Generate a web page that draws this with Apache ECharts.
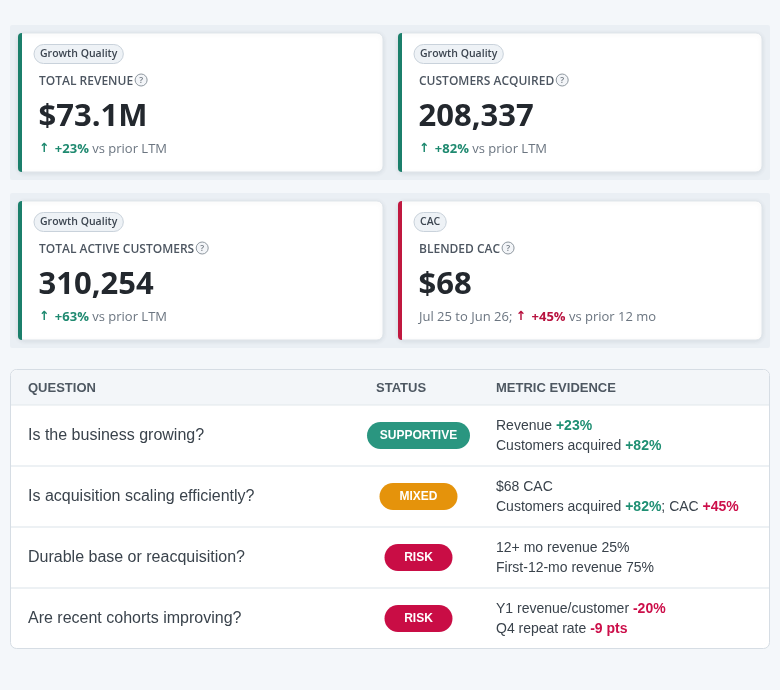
<!DOCTYPE html>
<html>
<head>
<meta charset="utf-8">
<script src="https://cdn.jsdelivr.net/npm/echarts@6/dist/echarts.min.js"></script>
<style>
html,body{margin:0;padding:0;background:#f4f7fa;}
#chart{width:780px;height:690px;}
</style>
</head>
<body>
<div id="chart"></div>
<script>
// ---- data ----
const kpiTags = ['Growth Quality', 'Growth Quality', 'Growth Quality', 'CAC'];
const kpiTitles = ['TOTAL REVENUE', 'CUSTOMERS ACQUIRED', 'TOTAL ACTIVE CUSTOMERS', 'BLENDED CAC'];
const kpiValues = ['$73.1M', '208,337', '310,254', '$68'];
const kpiPrefixes = ['', '', '', 'Jul 25 to Jun 26; '];
const kpiChanges = ['+23%', '+82%', '+63%', '+45%'];
const kpiCompares = ['vs prior LTM', 'vs prior LTM', 'vs prior LTM', 'vs prior 12 mo'];
const kpiTones = ['good', 'good', 'good', 'bad'];

const tableHeaders = ['QUESTION', 'STATUS', 'METRIC EVIDENCE'];
const questions = [
  'Is the business growing?',
  'Is acquisition scaling efficiently?',
  'Durable base or reacquisition?',
  'Are recent cohorts improving?'
];
const statuses = ['SUPPORTIVE', 'MIXED', 'RISK', 'RISK'];
const evidenceLine1 = [
  'Revenue {g|+23%}',
  '$68 CAC',
  '12+ mo revenue 25%',
  'Y1 revenue/customer {r|-20%}'
];
const evidenceLine2 = [
  'Customers acquired {g|+82%}',
  'Customers acquired {g|+82%}; CAC {r|+45%}',
  'First-12-mo revenue 75%',
  'Q4 repeat rate {r|-9 pts}'
];

// ---- styles ----
const CARD_FONT = "'Open Sans', 'Noto Sans', sans-serif";
const TABLE_FONT = "'Liberation Sans', Arial, sans-serif";
const toneColors = {
  good: { accent: '#1b7f6b', text: '#1f8a70' },
  bad: { accent: '#c0183f', text: '#b8123f' }
};
const statusStyles = {
  SUPPORTIVE: { fill: '#2a9680', width: 103 },
  MIXED: { fill: '#e5930b', width: 78 },
  RISK: { fill: '#c90d45', width: 68 }
};

const measureCtx = document.createElement('canvas').getContext('2d');
function textWidth(text, font) {
  measureCtx.font = font;
  return measureCtx.measureText(text).width;
}

const elements = [];

// bands
const bandYs = [25, 193];
bandYs.forEach(function (y) {
  elements.push({
    type: 'rect', shape: { x: 10, y: y, width: 760, height: 155, r: 2 },
    style: { fill: '#eaeff4' }
  });
});

// cards
const cardXs = [18, 398];
const cardW = [365, 364];
const cardYs = [33, 201];
const cardH = 139;

kpiTitles.forEach(function (title, i) {
  const col = i % 2, row = Math.floor(i / 2);
  const x = cardXs[col], y = cardYs[row], w = cardW[col];
  const tone = toneColors[kpiTones[i]];

  elements.push({
    type: 'rect', shape: { x: x, y: y, width: w, height: cardH, r: 6 },
    style: { fill: '#ffffff', stroke: '#dfe5ea', lineWidth: 1,
      shadowBlur: 5, shadowColor: 'rgba(20,40,70,0.09)', shadowOffsetY: 1 }
  });
  elements.push({
    type: 'rect', shape: { x: x, y: y, width: 4, height: cardH, r: [6, 0, 0, 6] },
    style: { fill: tone.accent }
  });

  // tag pill
  const tagFont = "600 10.5px " + CARD_FONT;
  const tagW = textWidth(kpiTags[i], tagFont) + 12;
  elements.push({
    type: 'rect', shape: { x: x + 16, y: y + 11.5, width: tagW, height: 19, r: 9.5 },
    style: { fill: '#eef2f6', stroke: '#c9d2db', lineWidth: 1 }
  });
  elements.push({
    type: 'text', x: x + 16 + tagW / 2, y: y + 21,
    style: { text: kpiTags[i], font: tagFont, fill: '#3d4651', align: 'center', verticalAlign: 'middle' }
  });

  // title + help icon
  const titleFont = "600 12px " + CARD_FONT;
  const tx = x + 21, ty = y + 49;
  elements.push({
    type: 'text', x: tx, y: ty,
    style: { text: title, font: titleFont, fill: '#4d5661', align: 'left', verticalAlign: 'middle' }
  });
  const tw = textWidth(title, titleFont);
  elements.push({
    type: 'circle', shape: { cx: tx + tw + 8, cy: ty - 2, r: 6 },
    style: { fill: '#f3f5f8', stroke: '#8e979f', lineWidth: 1 }
  });
  elements.push({
    type: 'text', x: tx + tw + 8, y: ty - 1.5,
    style: { text: '?', font: "600 8.5px " + CARD_FONT, fill: '#6b747d', align: 'center', verticalAlign: 'middle' }
  });

  // value
  elements.push({
    type: 'text', x: tx - 0.5, y: y + 84.5,
    style: { text: kpiValues[i], font: "bold 31px " + CARD_FONT, fill: '#23282e', align: 'left', verticalAlign: 'middle' }
  });

  // delta line
  let rt = '';
  if (kpiPrefixes[i]) rt += '{c|' + kpiPrefixes[i] + '}';
  rt += '{a|↑}{s| }{b|' + kpiChanges[i] + '}{s| }{c|' + kpiCompares[i] + '}';
  elements.push({
    type: 'text', x: tx, y: y + 116,
    style: {
      text: rt, align: 'left', verticalAlign: 'middle',
      font: "13px " + CARD_FONT, fill: '#6b7580',
      rich: {
        a: { fontFamily: "'DejaVu Sans'", fontSize: 12.5, fontWeight: 'bold', fill: tone.text, lineHeight: 18, padding: [0, 2, 0, 0] },
        b: { fontFamily: CARD_FONT, fontSize: 13, fontWeight: 'bold', fill: tone.text, lineHeight: 18 },
        c: { fontFamily: CARD_FONT, fontSize: 13, fill: '#6b7580', lineHeight: 18 },
        s: { fontFamily: CARD_FONT, fontSize: 13, lineHeight: 18 }
      }
    }
  });
});

// table
const tX = 10.5, tY = 369.5, tW = 759, tH = 279;
const headH = 35, rowH = 61;
elements.push({
  type: 'rect', shape: { x: tX, y: tY, width: tW, height: tH, r: 6 },
  style: { fill: '#ffffff', stroke: '#d6dde4', lineWidth: 1 }
});
elements.push({
  type: 'rect', shape: { x: tX + 0.5, y: tY + 0.5, width: tW - 1, height: headH, r: [6, 6, 0, 0] },
  style: { fill: '#f3f6f9' }
});
elements.push({
  type: 'rect', shape: { x: tX + 0.5, y: tY + headH, width: tW - 1, height: 1 },
  style: { fill: '#e2e7ec' }
});
const colXs = [28, 376, 496];
tableHeaders.forEach(function (h, i) {
  elements.push({
    type: 'text', x: colXs[i], y: 388,
    style: { text: h, font: "bold 13px " + TABLE_FONT, fill: '#4e5862', align: 'left', verticalAlign: 'middle' }
  });
});

questions.forEach(function (q, i) {
  const top = 405 + i * rowH;
  const cy = top + rowH / 2;
  if (i > 0) {
    elements.push({
      type: 'rect', shape: { x: tX + 0.5, y: top - 1, width: tW - 1, height: 2 },
      style: { fill: '#edf1f4' }
    });
  }
  elements.push({
    type: 'text', x: 28, y: cy + 0.5,
    style: { text: q, font: "16px " + TABLE_FONT, fill: '#3a434c', align: 'left', verticalAlign: 'middle' }
  });
  const st = statusStyles[statuses[i]];
  elements.push({
    type: 'rect', shape: { x: 418.5 - st.width / 2, y: cy - 13.5, width: st.width, height: 27, r: 13.5 },
    style: { fill: st.fill }
  });
  elements.push({
    type: 'text', x: 418.5, y: cy,
    style: { text: statuses[i], font: "bold 12px " + TABLE_FONT, fill: '#ffffff', align: 'center', verticalAlign: 'middle' }
  });
  const evRich = {
    g: { fontFamily: TABLE_FONT, fontSize: 14, fontWeight: 'bold', fill: '#1f8f73', lineHeight: 20 },
    r: { fontFamily: TABLE_FONT, fontSize: 14, fontWeight: 'bold', fill: '#cc0f4a', lineHeight: 20 }
  };
  [evidenceLine1[i], evidenceLine2[i]].forEach(function (line, k) {
    elements.push({
      type: 'text', x: 496, y: cy - 9.5 + k * 20,
      style: { text: line, font: "14px " + TABLE_FONT, fill: '#3a434c', align: 'left', verticalAlign: 'middle', rich: evRich }
    });
  });
});

const chart = echarts.init(document.getElementById('chart'), null, { renderer: 'canvas' });
chart.setOption({
  backgroundColor: '#f4f7fa',
  animation: false,
  graphic: { elements: elements }
});
</script>
</body>
</html>
